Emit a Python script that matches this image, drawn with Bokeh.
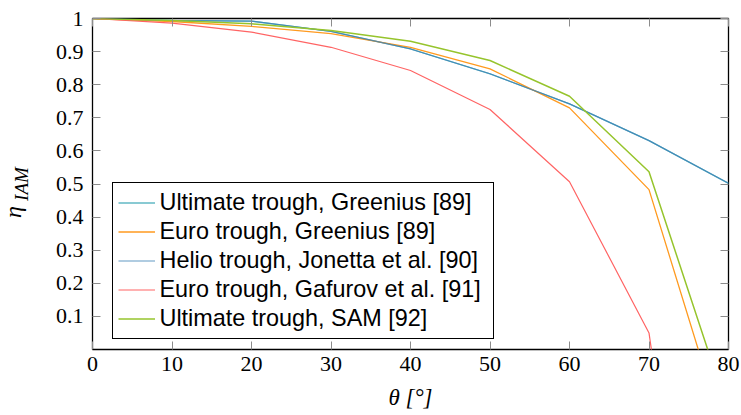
from bokeh.plotting import figure
from bokeh.models import (LinearAxis, FixedTicker, Legend, LegendItem, Label, Range1d)
from bokeh.embed import file_html
from bokeh.resources import INLINE
import math

# ---- data ----
theta = [0, 10, 20, 30, 40, 50, 60, 70, 80]
ultimate_greenius = [1.0, 0.994, 0.992, 0.961, 0.908, 0.833, 0.742, 0.631, 0.502]
euro_greenius = [1.0, 0.991, 0.976, 0.954, 0.913, 0.848, 0.730, 0.483, -0.296]
helio_jonetta = [1.0, 0.994, 0.992, 0.961, 0.908, 0.833, 0.742, 0.631, 0.502]
theta_gafurov = [0, 10, 20, 30, 40, 50, 60, 70, 75]
euro_gafurov = [1.0, 0.986, 0.959, 0.913, 0.843, 0.725, 0.507, 0.050, -0.78]
ultimate_sam = [1.0, 0.994, 0.984, 0.964, 0.931, 0.873, 0.765, 0.537, -0.19]

series_names = ["Ultimate trough, Greenius [89]", "Euro trough, Greenius [89]",
                "Helio trough, Jonetta et al. [90]", "Euro trough, Gafurov et al. [91]",
                "Ultimate trough, SAM [92]"]

x_ticks = [0, 10, 20, 30, 40, 50, 60, 70, 80]
y_ticks = [0.1, 0.2, 0.3, 0.4, 0.5, 0.6, 0.7, 0.8, 0.9, 1.0]
y_tick_labels = ["0.1", "0.2", "0.3", "0.4", "0.5", "0.6", "0.7", "0.8", "0.9", "1"]

# ---- styles ----
colors = ["#62b9c4", "#ff9a1f", "#3a7fb4", "#ff6464", "#96c42c"]
serif = "Liberation Serif"

p = figure(width=741, height=415, x_range=Range1d(0, 80), y_range=Range1d(0, 1),
           output_backend="svg", toolbar_location=None,
           min_border_left=92, min_border_right=13, min_border_top=18, min_border_bottom=66)
p.grid.visible = False
p.outline_line_color = "black"
p.outline_line_width = 1.3
p.outline_line_alpha = 1
p.background_fill_color = "white"
p.border_fill_color = "white"

def style_axis(ax):
    ax.axis_line_color = None
    ax.major_tick_in = 8
    ax.major_tick_out = 0
    ax.minor_tick_in = 0
    ax.minor_tick_out = 0
    ax.major_tick_line_color = "#8c8c8c"
    ax.major_tick_line_width = 1
    ax.major_label_text_font = serif
    ax.major_label_text_font_size = "22px"
    ax.major_label_text_color = "black"

p.xaxis.ticker = FixedTicker(ticks=x_ticks)
p.yaxis.ticker = FixedTicker(ticks=y_ticks)
p.yaxis.major_label_overrides = {t: l for t, l in zip(y_ticks, y_tick_labels)}
style_axis(p.xaxis[0])
style_axis(p.yaxis[0])
p.xaxis.major_label_standoff = 7
p.yaxis.major_label_standoff = 9

# x title
p.xaxis.axis_label = "θ [°]"
p.xaxis.axis_label_text_font = serif
p.xaxis.axis_label_text_font_style = "italic"
p.xaxis.axis_label_text_font_size = "23px"
p.xaxis.axis_label_text_color = "black"
p.xaxis.axis_label_standoff = 11

# mirrored ticks (no labels)
top = LinearAxis(ticker=FixedTicker(ticks=x_ticks))
right = LinearAxis(ticker=FixedTicker(ticks=y_ticks))
style_axis(top)
style_axis(right)
top.major_label_overrides = {t: "" for t in x_ticks}
right.major_label_overrides = {t: "" for t in y_ticks}
top.major_label_standoff = 0
right.major_label_standoff = 0
p.add_layout(top, "above")
p.add_layout(right, "right")

# ---- lines ----
r0 = p.line(theta, ultimate_greenius, line_color=colors[0], line_width=1.3)
r1 = p.line(theta, euro_greenius, line_color=colors[1], line_width=1.3)
r2 = p.line(theta, helio_jonetta, line_color=colors[2], line_width=1.2, line_alpha=0.8)
r3 = p.line(theta_gafurov, euro_gafurov, line_color=colors[3], line_width=1.2)
r4 = p.line(theta, ultimate_sam, line_color=colors[4], line_width=1.5)

items = [LegendItem(label=n, renderers=[r]) for n, r in zip(series_names, [r0, r1, r2, r3, r4])]
legend = Legend(items=items, location=(19.5, 10))
legend.label_text_font = "Liberation Sans"
legend.label_text_font_size = "23.4px"
legend.label_text_color = "black"
legend.glyph_width = 37
legend.glyph_height = 29
legend.label_height = 29
legend.label_width = 328
legend.label_standoff = 5
legend.padding = 5
legend.spacing = 0
legend.margin = 0
legend.border_line_color = "black"
legend.border_line_alpha = 1
legend.border_line_width = 1
legend.background_fill_alpha = 1
p.add_layout(legend)

# y title: eta with subscript IAM (in the left side panel so it is not clipped)
p.add_layout(Label(x=-10.0, y=0.415, text="η", angle=math.pi / 2, text_align="center",
                   text_baseline="alphabetic", text_font=serif, text_font_style="italic",
                   text_font_size="24px", text_color="black"), "left")
p.add_layout(Label(x=-8.95, y=0.50, text="IAM", angle=math.pi / 2, text_align="center",
                   text_baseline="alphabetic", text_font=serif, text_font_style="italic",
                   text_font_size="19px", text_color="black"), "left")

open("out.html", "w").write(file_html(p, INLINE))
